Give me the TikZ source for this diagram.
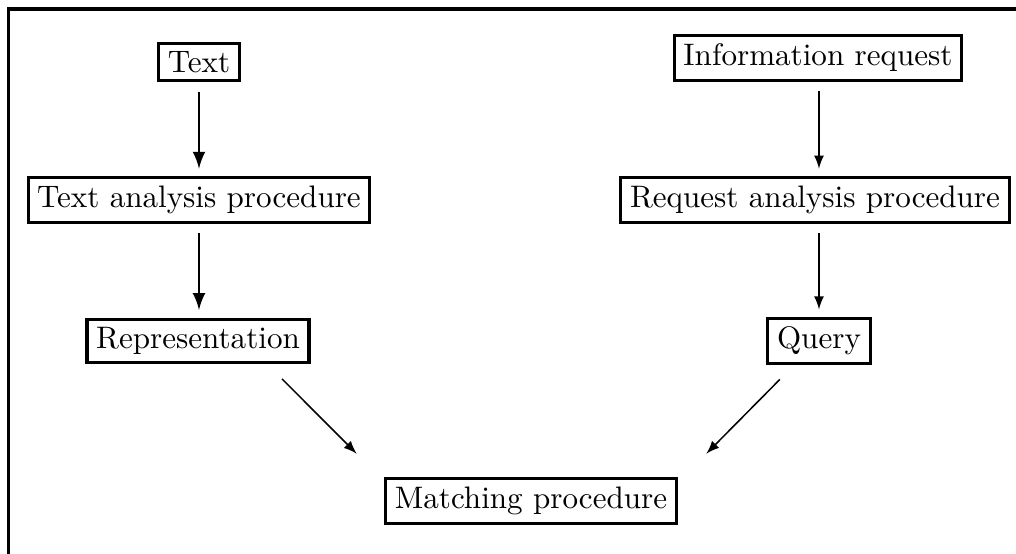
\documentclass[tikz,border=0pt]{standalone}
\usetikzlibrary{arrows,calc}
\begin{document}
\begin{tikzpicture}[
    x=0.328pt, y=-0.328pt,
    box/.style={
        rectangle, draw, line width=1pt,
        inner xsep=3pt, inner ysep=2.7pt,
        font=\fontsize{10.2}{12}\selectfont
    },
    flow/.style     ={-latex, line width=0.9pt, shorten <=3pt, shorten >=2.5pt},
    thin flow/.style={-latex, line width=0.5pt, shorten <=3pt, shorten >=2.5pt},
    slant/.style    ={-latex, line width=0.5pt}
]
\useasboundingbox (0,0) rectangle (1016,554);
\draw[line width=1pt] (1016,9) -- (8.5,9) -- (8.5,554);

\node [box] (text)  at (199,62)   {Text};
\node [box] (tap)   at (199,200)  {Text analysis procedure};
\node [box] (rep)   at (198,341)  {Representation};
\node [box] (info)  at (818,58)   {Information request};
\node [box] (rap)   at (815,200)  {Request analysis procedure};
\node [box] (query) at (819,341)  {Query};
\node [box] (match) at (531,501)  {Matching procedure};

\draw [flow] (text.south) -- (text.south |- tap.north);
\draw [flow] (tap.south) -- (tap.south |- rep.north);
\draw [thin flow] (query.south |- info.south) -- (query.north |- rap.north);
\draw [thin flow] (query.north |- rap.south) -- (query.north);
\draw [slant] ($(rep.south east)+(-28.5,14.5)$) -- ($(match.north west)+(-27.5,-23.5)$);
\draw [slant] ($(query.south west)+(13.5,14.5)$) -- ($(match.north east)+(28.5,-23.5)$);
\end{tikzpicture}
\end{document}
